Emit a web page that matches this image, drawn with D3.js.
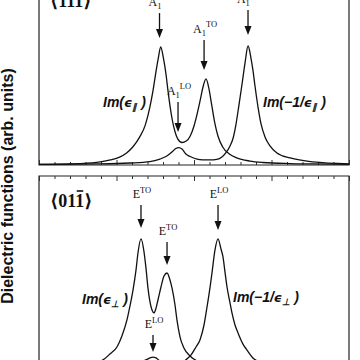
<!DOCTYPE html>
<html>
<head>
<script src="https://d3js.org/d3.v7.min.js"></script>
<style>
html, body { margin: 0; padding: 0; background: #fff; }
svg { display: block; }
.curve { fill: none; stroke: #111; stroke-width: 1.3px; }
.frame { fill: none; stroke: #222; stroke-width: 1.2px; }
.tick line { stroke: #333; stroke-width: 1px; }
.mode { font-family: "Liberation Serif", "DejaVu Serif", serif; font-size: 12px; fill: #111; }
.fn { font-family: "Liberation Sans", Arial, sans-serif; font-weight: bold; font-style: italic; font-size: 14px; fill: #111; }
.panel { font-family: "Liberation Serif", "DejaVu Serif", serif; font-weight: bold; font-size: 18px; fill: #111; }
.ylab { font-family: "Liberation Sans", Arial, sans-serif; font-weight: bold; font-size: 16px; fill: #111; }
</style>
</head>
<body>
<svg width="360" height="360"></svg>
<script>
// frequency axis, arbitrary units (no tick labels visible in the crop)
var xTicks = d3.range(0, 401, 20);

// <111> panel : Im(eps_par) and Im(-1/eps_par)
var epsPar = [[0,0.3],[53,0.8],[79,1.7],[92,2.8],[104,4.4],[113,6.7],[121,10],[130,15.6],[137,22],[143,32],
  [147,41],[151,52],[154,59.5],[157,65.6],[160.5,59.5],[164,50],[166.5,41],[169,33],[172,25],[175.5,18.5],
  [179,14.5],[184.5,12.5],[190,13.3],[195,16],[200,21.7],[204,28.3],[208,36],[212,44],[215.5,47.8],[219,43],
  [223,33],[227,23],[231,16],[237,10],[246,6],[255,4],[272,2.2],[289,1.4],[324,0.8],[353,0.6],[400,0.3]];

var lossPar = [[0,0.3],[79,0.6],[117,1.1],[143,1.9],[156,3.3],[165,5],[171.5,7.2],[176.5,9.2],[180.5,9.7],
  [184.5,8.9],[189.5,6.1],[195,4.7],[204,3.3],[211.5,2.9],[220.5,2.8],[229.5,3.1],[236,4.4],[241,6.7],
  [246.5,10.6],[250.5,15],[254,22.2],[258,33.3],[262,45],[266,57.2],[269.7,66.1],[273.5,59.4],[276,52.8],
  [278.7,43.9],[282.6,32.2],[286.5,22.8],[291.6,15.6],[298,10.6],[307,6.7],[324,3.9],[353.5,1.7],[400,0.6]];

// <01-1> panel : Im(eps_perp) and Im(-1/eps_perp)
var epsPerp = [[0,0.6],[40,1.7],[66,3.3],[82.6,5.6],[91.6,8.9],[100.6,12.8],[107,18.9],[113.5,27.8],
  [117.4,35.6],[121.3,44.4],[125.2,55.6],[127.7,65],[131.6,72.8],[135.5,65.6],[138,56.7],[140.6,45.6],
  [143.2,37.8],[145.8,33.3],[148.4,31.7],[151,34.4],[153.5,38.9],[157.4,46.1],[161.3,52.2],[165.2,53.9],
  [169,50],[171.6,45.6],[175.5,36.1],[178,27.8],[182,18.3],[187,12.2],[194.8,7.8],[204,5],[220.6,2.8],
  [259.4,1.1],[400,0.3]];

var lossPerp = [[0,0.3],[78.7,1.1],[111,2.2],[127.7,3.9],[138,5.6],[143.2,6.7],[147.1,7.2],[151,6.7],
  [156,5],[164,3.3],[175.5,3.1],[185.8,4.4],[192.3,6.7],[196,8.3],[202.6,12.8],[207.7,16.7],[212.9,25],
  [216.8,35],[220.6,45.6],[223.2,53.9],[227.1,66.7],[231,72.8],[234.8,67.2],[237.4,62.8],[240,54.4],
  [242.6,46.1],[246.5,37.2],[249,31.7],[252.9,25],[256.8,20.6],[263.2,14.4],[268.4,11.1],[276,6.7],
  [285,4.4],[311,2.2],[400,0.6]];

// phonon mode markers : x, arrow top and arrow tip (data units)
var modesPar = [
  {sym: "A", sub: "1", sup: "TO", x: 155.5, top: 84.4, tip: 70.6},
  {sym: "A", sub: "1", sup: "TO", x: 213,   top: 69.4, tip: 52.8},
  {sym: "A", sub: "1", sup: "LO", x: 179.4, top: 35,   tip: 18.3},
  {sym: "A", sub: "1", sup: "LO", x: 269.7, top: 86.1, tip: 72.2}
];
var modesPerp = [
  {sym: "E", sub: "", sup: "TO", x: 131.6, top: 91.7, tip: 78.9},
  {sym: "E", sub: "", sup: "TO", x: 165.2, top: 71.1, tip: 58.3},
  {sym: "E", sub: "", sup: "LO", x: 147.1, top: 19.4, tip: 10},
  {sym: "E", sub: "", sup: "LO", x: 231,   top: 91.7, tip: 77.8}
];

var svg = d3.select("svg");

var x = d3.scaleLinear().domain([0, 400]).range([39, 349]);
var y1 = d3.scaleLinear().domain([0, 100]).range([165, -15]);
var y2 = d3.scaleLinear().domain([0, 100]).range([370, 190]);

function line(y) {
  return d3.line()
    .x(function(d) { return x(d[0]); })
    .y(function(d) { return y(d[1]); })
    .curve(d3.curveMonotoneX);
}

// frames
svg.append("path").attr("class", "frame")
  .attr("d", "M" + x(0) + ",-5V" + y1(0) + "H" + x(400) + "V-5");
svg.append("path").attr("class", "frame")
  .attr("d", "M" + x(0) + ",370V176H" + x(400) + "V370");

// inward ticks on the facing edges of the two panels
var t1 = svg.append("g").attr("transform", "translate(0," + y1(0) + ")")
  .call(d3.axisTop(x).tickValues(xTicks).tickSize(3).tickFormat(""));
t1.select(".domain").remove();
t1.selectAll(".tick line").attr("y2", function(d) { return d % 100 === 0 ? -5 : -3; });

var t2 = svg.append("g").attr("transform", "translate(0,176)")
  .call(d3.axisBottom(x).tickValues(xTicks).tickSize(3).tickFormat(""));
t2.select(".domain").remove();
t2.selectAll(".tick line").attr("y2", function(d) { return d % 100 === 0 ? 5 : 3; });

// curves
[epsPar, lossPar].forEach(function(s) {
  svg.append("path").datum(s).attr("class", "curve").attr("d", line(y1));
});
[epsPerp, lossPerp].forEach(function(s) {
  svg.append("path").datum(s).attr("class", "curve").attr("d", line(y2));
});

// arrows + mode labels
function drawModes(modes, y) {
  modes.forEach(function(m) {
    var cx = x(m.x), yt = y(m.top), yp = y(m.tip);
    svg.append("line").attr("x1", cx).attr("x2", cx).attr("y1", yt).attr("y2", yp - 7)
      .attr("stroke", "#111").attr("stroke-width", 1.3);
    svg.append("path").attr("fill", "#111")
      .attr("d", "M" + (cx - 3.5) + "," + (yp - 9) + "L" + (cx + 3.5) + "," + (yp - 9) + "L" + cx + "," + yp + "Z");
    var t = svg.append("text").attr("class", "mode")
      .attr("x", cx + 1).attr("y", yt - 7).attr("text-anchor", "middle");
    t.append("tspan").text(m.sym);
    if (m.sub) {
      t.append("tspan").attr("font-size", "8.5px").attr("dy", 3).text(m.sub);
      t.append("tspan").attr("font-size", "8.5px").attr("dy", -9).text(m.sup);
    } else {
      t.append("tspan").attr("font-size", "8.5px").attr("dy", -5).text(m.sup);
    }
  });
}
drawModes(modesPar, y1);
drawModes(modesPerp, y2);

// function labels
function fnLabel(px, py, pre, sym) {
  var t = svg.append("text").attr("class", "fn").attr("x", px).attr("y", py);
  t.append("tspan").text(pre);
  t.append("tspan").attr("font-family", "DejaVu Sans").attr("font-size", "13px").text("\u03F5");
  t.append("tspan").attr("font-size", "9px").attr("dy", 3).text(sym);
  t.append("tspan").attr("dy", -3).text(" )");
}
fnLabel(103, 107, "Im(", "\u2225");
fnLabel(263, 107, "Im(\u22121/", "\u2225");
fnLabel(82, 304, "Im(", "\u22A5");
fnLabel(233, 302, "Im(\u22121/", "\u22A5");

// crystal directions
svg.append("text").attr("class", "panel").attr("x", 50).attr("y", 7).text("\u27E8111\u27E9");
var dir = svg.append("text").attr("class", "panel").attr("x", 50).attr("y", 207).text("\u27E8011\u27E9");
var n = dir.node();
var b0 = n.getStartPositionOfChar(3).x, b1 = n.getEndPositionOfChar(3).x;
svg.append("line").attr("x1", b0 + 1).attr("x2", b1 - 1).attr("y1", 191).attr("y2", 191)
  .attr("stroke", "#111").attr("stroke-width", 1.6);

// y axis title
svg.append("text").attr("class", "ylab")
  .attr("transform", "translate(13,186) rotate(-90)")
  .attr("text-anchor", "middle")
  .text("Dielectric functions (arb. units)");
</script>
</body>
</html>
